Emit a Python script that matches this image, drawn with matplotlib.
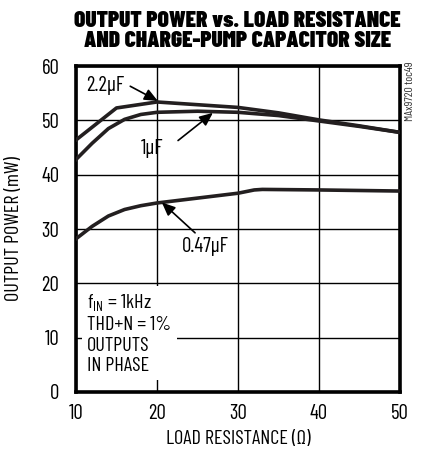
"""Output power vs. load resistance for three charge-pump capacitor sizes."""

import matplotlib.pyplot as plt

BODY = ["Barlow Condensed", "Archivo Narrow", "DejaVu Sans"]
plt.rcParams["font.family"] = BODY
plt.rcParams["mathtext.fontset"] = "custom"
plt.rcParams["mathtext.rm"] = "Barlow Condensed"

# Load resistance (ohm) and output power (mW) per capacitor size.
r_22u = [10, 15, 20, 25, 30, 35, 40, 45, 50]
p_22u = [46.4, 52.3, 53.4, 52.9, 52.4, 51.4, 50.1, 49.0, 47.8]

r_1u = [10, 12, 14, 16, 18, 20, 25, 30, 35, 40, 45, 50]
p_1u = [42.8, 45.8, 48.5, 50.2, 51.1, 51.5, 51.7, 51.5, 50.9, 49.9, 48.9, 47.8]

r_047u = [10, 12, 14, 16, 18, 20, 25, 30, 32, 33, 40, 50]
p_047u = [28.2, 30.5, 32.4, 33.6, 34.3, 34.8, 35.7, 36.6, 37.2, 37.3, 37.2, 37.0]

x_ticks = [10, 20, 30, 40, 50]
y_ticks = [0, 10, 20, 30, 40, 50, 60]

fig = plt.figure(figsize=(4.22, 4.5), dpi=100)
ax = fig.add_axes([0.180, 0.129, 0.768, 0.724])

for r, p in [(r_22u, p_22u), (r_1u, p_1u), (r_047u, p_047u)]:
    ax.plot(r, p, color="#231f20", lw=2.6, solid_joinstyle="round", zorder=3)

ax.set_xlim(10, 50)
ax.set_ylim(0, 60)
ax.set_xticks(x_ticks)
ax.set_yticks(y_ticks)
ax.grid(True, color="black", lw=1.0)
ax.tick_params(axis="x", length=0, labelsize=15, pad=9)
ax.tick_params(axis="y", length=0, labelsize=15, pad=12)
for s in ax.spines.values():
    s.set_linewidth(2.6)

ax.set_xlabel("LOAD RESISTANCE (Ω)", fontsize=14.5, labelpad=5)
ax.set_ylabel("OUTPUT POWER (mW)", fontsize=14.5, labelpad=13)

fig.text(0.562, 0.975, "OUTPUT POWER vs. LOAD RESISTANCE\nAND CHARGE-PUMP CAPACITOR SIZE",
         ha="center", va="top", fontsize=16.8, fontweight="black",
         family=["Barlow Condensed", "DejaVu Sans"], linespacing=0.98)
fig.text(0.972, 0.864, "MAx9720 toc49", rotation=90, ha="center", va="top",
         fontsize=8.5, color="#333333")

# Curve labels and their pointer arrows.
arrow = dict(arrowstyle="-|>,head_length=0.8,head_width=0.35", color="black",
             lw=1.2, shrinkA=0, shrinkB=0)
ax.text(11.3, 56.5, "2.2µF", fontsize=15, va="center")
ax.annotate("", xy=(20.1, 53.6), xytext=(16.7, 56.3), arrowprops=arrow)
ax.text(18.0, 44.9, "1µF", fontsize=15, va="center")
ax.annotate("", xy=(26.9, 51.4), xytext=(22.6, 46.3), arrowprops=arrow)
ax.text(26.0, 26.7, "0.47µF", fontsize=15, ha="center", va="center")
ax.annotate("", xy=(20.6, 34.9), xytext=(24.7, 29.3), arrowprops=arrow)

ax.text(11.4, 10.7, "f$_{\\mathregular{IN}}$ = 1kHz\nTHD+N = 1%\nOUTPUTS\nIN PHASE",
        fontsize=14.5, va="center", ha="left", linespacing=1.15, zorder=4,
        bbox=dict(facecolor="white", edgecolor="none", pad=4))

fig.savefig("out.png", dpi=100)
